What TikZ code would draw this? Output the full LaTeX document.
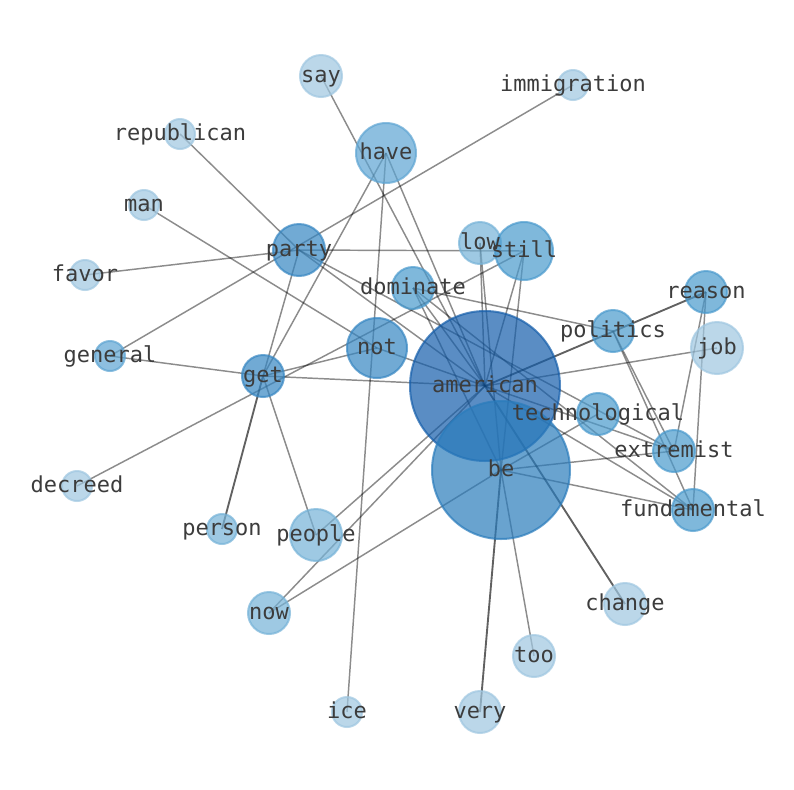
\documentclass[tikz,border=0pt]{standalone}
\usepackage{fontspec}
\setmonofont{DejaVu Sans Mono}
\pgfdeclarelayer{back}
\pgfdeclarelayer{bg}
\pgfdeclarelayer{mid}
\pgfsetlayers{back,bg,mid,main}
\definecolor{cA}{RGB}{21,94,171}
\definecolor{cB}{RGB}{42,124,188}
\definecolor{cC}{RGB}{54,134,194}
\definecolor{cD}{RGB}{74,154,205}
\definecolor{cE}{RGB}{94,165,211}
\definecolor{cF}{RGB}{118,179,216}
\definecolor{cG}{RGB}{159,199,225}
\definecolor{labelgray}{RGB}{60,60,60}
\tikzset{
 edge/.style={draw=black, draw opacity=0.45, line width=1.1pt},
 strongedge/.style={draw=black, draw opacity=0.62, line width=1.4pt},
 vtx/.style={circle, inner sep=0pt, outer sep=0pt, line width=1.5pt, fill=#1, draw=#1, fill opacity=0.7, draw opacity=0.7},
 rad/.style={minimum size=#1*1.5pt},
 lbl/.style={font=\fontsize{16.5}{18}\selectfont\ttfamily, text=labelgray, inner sep=0pt, text height=11pt, text depth=2pt},
}
\begin{document}
\begin{tikzpicture}[x=0.75pt,y=-0.75pt]
\useasboundingbox (0,0) rectangle (794,790);
\begin{pgfonlayer}{back}
\fill[white] (0,0) rectangle (794,790);
\end{pgfonlayer}
\begin{pgfonlayer}{mid}
\node[vtx=cG, rad=21] (say) at (321,76) {};
\node[vtx=cG, rad=15] (immigration) at (573,85) {};
\node[vtx=cG, rad=15] (republican) at (180,134) {};
\node[vtx=cE, rad=30] (have) at (386,153) {};
\node[vtx=cG, rad=15] (man) at (144,205) {};
\node[vtx=cC, rad=26] (party) at (299,250) {};
\node[vtx=cG, rad=15] (favor) at (85,275) {};
\node[vtx=cF, rad=21] (low) at (480,243) {};
\node[vtx=cD, rad=29] (still) at (524,251) {};
\node[vtx=cD, rad=21] (dominate) at (413,288) {};
\node[vtx=cD, rad=21] (reason) at (706,292) {};
\node[vtx=cD, rad=21] (politics) at (613,331) {};
\node[vtx=cG, rad=26] (job) at (717,348) {};
\node[vtx=cE, rad=15] (general) at (110,356) {};
\node[vtx=cC, rad=30] (not) at (377,348) {};
\node[vtx=cC, rad=21] (get) at (263,376) {};
\node[vtx=cA, rad=75] (american) at (485,386) {};
\node[vtx=cD, rad=21] (technological) at (598,414) {};
\node[vtx=cD, rad=21] (extremist) at (674,451) {};
\node[vtx=cB, rad=69] (be) at (501,470) {};
\node[vtx=cG, rad=15] (decreed) at (77,486) {};
\node[vtx=cD, rad=21] (fundamental) at (693,510) {};
\node[vtx=cF, rad=15] (person) at (222,529) {};
\node[vtx=cF, rad=26] (people) at (316,535) {};
\node[vtx=cG, rad=21] (change) at (625,604) {};
\node[vtx=cF, rad=21] (now) at (269,613) {};
\node[vtx=cG, rad=21] (too) at (534,656) {};
\node[vtx=cG, rad=15] (ice) at (347,712) {};
\node[vtx=cG, rad=21] (very) at (480,712) {};
\end{pgfonlayer}
\begin{pgfonlayer}{bg}
\foreach \a/\b in {say/american, have/american, have/get, have/ice,
  republican/party, man/not, party/favor, party/still, general/immigration,
  party/get, party/extremist, party/american, general/get, get/not,
  get/american, get/people, decreed/still,
  not/american, dominate/politics, dominate/american, dominate/be,
  dominate/fundamental, american/job,
  american/extremist, american/fundamental, politics/extremist,
  politics/fundamental, reason/extremist, reason/fundamental,
  be/extremist, be/fundamental, be/technological, low/american, low/be,
  still/american, still/be, too/be,
  people/american, now/american, now/be}
  {\draw[edge] (\a.center) -- (\b.center);}
\foreach \a/\b in {get/person, american/reason, very/be, change/american}
  {\draw[strongedge] (\a.center) -- (\b.center);}
\end{pgfonlayer}
\foreach \n in {say, immigration, republican, have, man, party, favor, low,
  still, dominate, reason, politics, job, general, not, get, american,
  technological, extremist, be, decreed, fundamental, person, people,
  change, now, too, ice, very}
  {\node[lbl] (\n-label) at (\n.center) {\n};}
\end{tikzpicture}
\end{document}
